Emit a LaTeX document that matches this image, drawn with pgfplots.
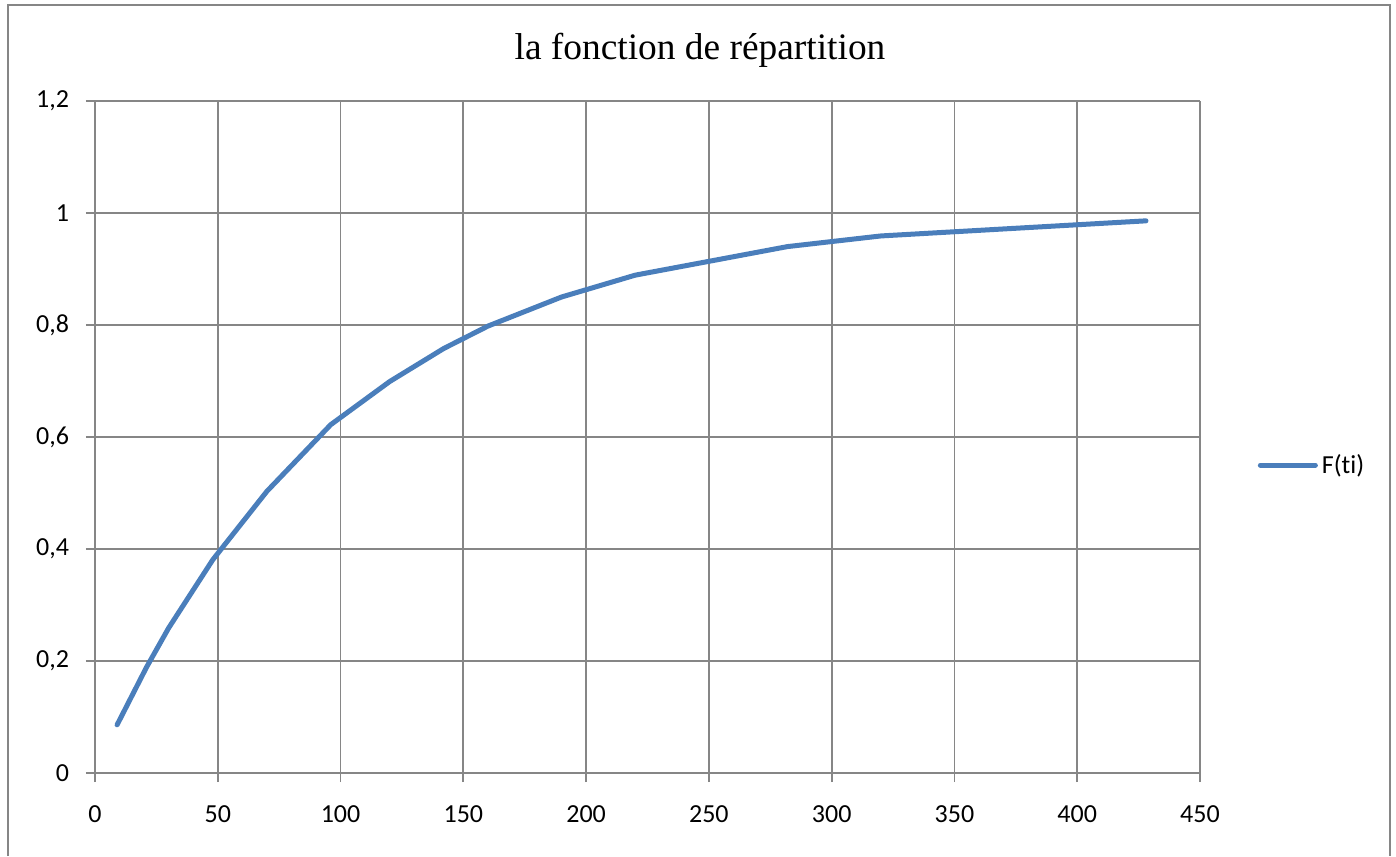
\documentclass[border=0pt]{standalone}
\usepackage{fontspec}
\setmainfont{Carlito}[Ligatures={NoCommon}]
\newfontfamily\titlefont{Liberation Serif}
\usepackage{pgfplots}
\pgfplotsset{compat=1.18}
\definecolor{linecol}{RGB}{74,126,187}
\definecolor{gridcol}{RGB}{134,134,134}
\begin{document}
\begin{tikzpicture}
\useasboundingbox (-47.5pt,-41.5pt) rectangle (650.5pt,386.5pt);
\draw[gridcol, line width=1pt] (-43.5pt,-41.5pt) -- (-43.5pt,384pt) -- (647.5pt,384pt) -- (647.5pt,-41.5pt);
\begin{axis}[
  at={(0,0)}, anchor=south west, scale only axis,
  width=552.5pt, height=336pt,
  xmin=0, xmax=450, ymin=0, ymax=1.2,
  xtick={0,50,100,150,200,250,300,350,400,450},
  ytick={0,0.2,0.4,0.6,0.8,1,1.2},
  axis lines=left, axis line style={-, gridcol, line width=0.9pt},
  grid=major, major grid style={gridcol, line width=0.9pt},
  tick align=outside, major tick length=4.5pt,
  tick style={gridcol, line width=0.9pt},
  /pgf/number format/assume math mode=true,
  /pgf/number format/use comma,
  ticklabel style={font=\fontsize{13}{15}\selectfont, text=black},
  xticklabel style={yshift=-8.5pt},
  yticklabel style={xshift=-5pt},
  legend style={at={(1.052,0.458)}, anchor=west, draw=none, fill=none,
    font=\fontsize{13}{15}\selectfont, inner sep=0pt},
  legend cell align=left,
]
\addplot[linecol, line width=2.5pt, line cap=round, line join=round,
  legend image code/.code={\draw[linecol, line width=2.5pt, line cap=round] (0pt,0pt) -- (27.5pt,0pt);}]
coordinates {
(9,0.086) (21,0.189) (30,0.259) (48,0.381) (70,0.503) (96,0.622)
(120,0.699) (142,0.758) (160,0.798) (190,0.850) (220,0.889)
(282,0.940) (320,0.959) (428,0.986)
};
\addlegendentry{F(ti)}
\end{axis}
\node[font=\titlefont\fontsize{18.7}{22}\selectfont] at (302.5pt,361.5pt) {la fonction de répartition};
\end{tikzpicture}
\end{document}
